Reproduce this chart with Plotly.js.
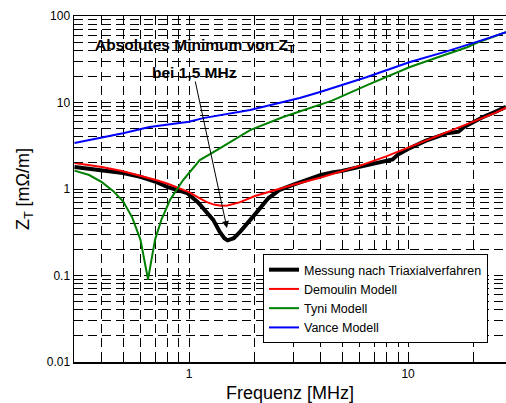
<!DOCTYPE html>
<html>
<head>
<meta charset="utf-8">
<script src="https://cdn.plot.ly/plotly-3.0.1.min.js"></script>
<style>html,body{margin:0;padding:0;background:#fff}#chart{width:506px;height:403px}</style>
</head>
<body>
<div id="chart"></div>
<script>
// Frequencies in MHz, impedance in mOhm/m
const messF = [0.3,0.35,0.4,0.5,0.6,0.7,0.8,0.9,0.98,1.1,1.16,1.29,1.38,1.45,1.5,1.6,1.71,1.85,2.04,2.3,2.6,3.0,3.5,4.0,4.5,5.0,6.0,7.0,8.0,8.5,9.0,10,12,14,15,16,17,18,20,22,25,28];
const messZ = [1.8,1.72,1.65,1.53,1.38,1.22,1.05,0.95,0.9,0.7,0.6,0.44,0.32,0.27,0.255,0.27,0.32,0.41,0.54,0.78,0.98,1.12,1.3,1.45,1.55,1.62,1.8,1.95,2.1,2.2,2.5,2.9,3.6,4.2,4.4,4.5,4.6,5.2,6.0,6.8,7.8,8.9];

const demF = [0.3,0.4,0.5,0.6,0.7,0.8,0.9,1.0,1.1,1.2,1.3,1.4,1.5,1.7,2.0,2.5,3.0,4.0,5.0,6.0,8.0,10,12,15,20,25,28];
const demZ = [2.0,1.8,1.6,1.42,1.28,1.15,1.02,0.92,0.8,0.71,0.66,0.64,0.645,0.7,0.83,0.98,1.12,1.36,1.6,1.85,2.4,3.0,3.6,4.5,6.0,7.6,8.7];

const tyniF = [0.3,0.35,0.4,0.45,0.5,0.55,0.6,0.63,0.65,0.67,0.7,0.75,0.82,0.94,1.12,1.34,1.9,2.69,3.57,4.5,6.5,10.2,14,18.6,20.6,24,28];
const tyniZ = [1.63,1.45,1.2,0.95,0.72,0.47,0.26,0.14,0.09,0.14,0.26,0.45,0.75,1.27,2.16,2.82,4.8,6.8,8.6,10.5,15.9,25.7,34,43.5,49,56,65];

const vanceF = [0.3,0.5,0.66,1.0,1.16,1.9,3.2,4.0,6.5,10.2,15,18.6,22,28];
const vanceZ = [3.4,4.4,5.2,6.0,6.6,8.2,11.3,13.3,19.7,29.4,39,46,53,65];

const seriesNames = ["Messung nach Triaxialverfahren","Demoulin Modell","Tyni Modell","Vance Modell"];

const xTickVals = [0.3,0.4,0.5,0.6,0.7,0.8,0.9,1,2,3,4,5,6,7,8,9,10,20,30];
const xTickText = ["","","","","","","","1","","","","","","","","","10","",""];
const yTickVals = [];
const yTickText = [];
[0.01,0.1,1,10].forEach(d => { for (let k=1;k<=9;k++){ yTickVals.push(d*k); yTickText.push(k===1 ? String(d) : ""); } });
yTickVals.push(100); yTickText.push("100");

const font = "Liberation Sans, Arial, sans-serif";

const traces = [
  {x: messF, y: messZ, name: seriesNames[0], mode: "lines", line: {color: "#000000", width: 4}},
  {x: demF, y: demZ, name: seriesNames[1], mode: "lines", line: {color: "#ff0000", width: 2}},
  {x: tyniF, y: tyniZ, name: seriesNames[2], mode: "lines", line: {color: "#008000", width: 2}},
  {x: vanceF, y: vanceZ, name: seriesNames[3], mode: "lines", line: {color: "#0000ff", width: 2}}
];

const gridStyle = {showgrid: true, gridcolor: "#000000", gridwidth: 1, griddash: "9px,5px"};

const layout = {
  width: 506, height: 403,
  margin: {l: 74, r: 0, t: 16, b: 41},
  paper_bgcolor: "#fff", plot_bgcolor: "#fff",
  font: {family: font, size: 12, color: "#000"},
  showlegend: true,
  legend: {x: 0.4375, y: 0.312, xanchor: "left", yanchor: "top", bgcolor: "#fff", bordercolor: "#000", borderwidth: 1, font: {family: font, size: 12.5, color: "#000"}, tracegroupgap: 0},
  xaxis: Object.assign({
    type: "log", range: [Math.log10(0.2985), Math.log10(28)],
    tickvals: xTickVals, ticktext: xTickText, ticks: "inside", ticklen: 4, tickcolor: "#000",
    showline: true, linecolor: "#000", linewidth: 1.5, mirror: true, zeroline: false,
    tickfont: {family: font, size: 12},
    title: {text: "Frequenz [MHz]", font: {family: font, size: 18}, standoff: 8}
  }, gridStyle),
  yaxis: Object.assign({
    type: "log", range: [-2, 2],
    tickvals: yTickVals, ticktext: yTickText, ticks: "inside", ticklen: 4, tickcolor: "#000",
    showline: true, linecolor: "#000", linewidth: 1.5, mirror: false, zeroline: false,
    tickfont: {family: font, size: 12},
    title: {text: "Z<sub>T</sub> [mΩ/m]", font: {family: font, size: 18}, standoff: 12}
  }, gridStyle),
  annotations: [
    {xref: "paper", yref: "paper", x: 0.279, y: 0.916, xanchor: "center", yanchor: "middle", showarrow: false,
     text: "<b>Absolutes Minimum von Z<sub>T</sub></b>", font: {family: font, size: 15.5, color: "#000"}},
    {xref: "paper", yref: "paper", x: 0.279, y: 0.838, xanchor: "center", yanchor: "middle", showarrow: false,
     text: "<b>bei 1,5 MHz</b>", font: {family: font, size: 15.5, color: "#000"}},
    {xref: "x", yref: "y", x: Math.log10(1.49), y: Math.log10(0.354), text: "", showarrow: true,
     axref: "pixel", ayref: "pixel", ax: -32, ay: -148, arrowhead: 2, arrowsize: 1.4, arrowwidth: 1, arrowcolor: "#000"}
  ]
};

Plotly.newPlot("chart", traces, layout, {displayModeBar: false, staticPlot: true});
</script>
</body>
</html>
